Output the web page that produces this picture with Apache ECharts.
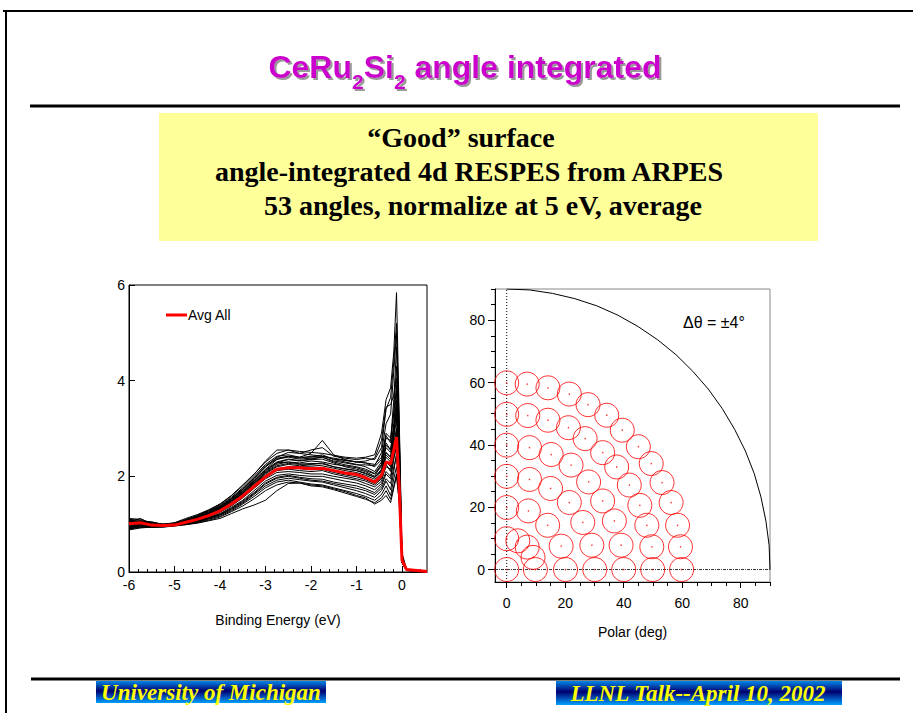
<!DOCTYPE html>
<html><head><meta charset="utf-8">
<script src="https://cdn.jsdelivr.net/npm/echarts@6/dist/echarts.min.js"></script>
<style>html,body{margin:0;padding:0;background:#fff;}#c{width:913px;height:713px;}</style>
</head><body><div id="c"></div>
<script>
// ---------- Left panel: angle-integrated spectra ----------
const energy = [-6,-5.75,-5.5,-5.25,-5,-4.75,-4.5,-4.25,-4,-3.75,-3.5,-3.25,-3,-2.75,-2.5,-2.25,-2,-1.75,-1.5,-1.25,-1,-0.8,-0.6,-0.45,-0.35,-0.25,-0.18,-0.12,-0.06,0,0.1,0.55];
const avgAll = [1.01,1.03,0.98,0.97,0.98,1.04,1.10,1.18,1.28,1.42,1.59,1.79,1.99,2.15,2.18,2.18,2.16,2.17,2.12,2.07,2.04,1.97,1.88,2.02,2.30,2.26,2.55,2.82,1.75,0.25,0.05,0.01];
const angle01 = [1.10,1.08,1.02,1.00,1.03,1.12,1.20,1.30,1.42,1.60,1.82,2.05,2.30,2.48,2.55,2.52,2.50,2.48,2.44,2.40,2.38,2.40,2.45,2.90,3.60,3.85,4.60,5.84,3.20,0.40,0.06,0.01];
const angle02 = [1.05,1.12,1.00,0.98,1.00,1.08,1.16,1.24,1.36,1.52,1.72,1.95,2.20,2.40,2.50,2.48,2.55,2.60,2.42,2.38,2.35,2.38,2.35,2.60,3.40,3.65,4.40,5.20,3.00,0.35,0.05,0.01];
const angle03 = [0.95,1.00,0.96,0.95,0.98,1.05,1.13,1.22,1.35,1.50,1.70,1.92,2.15,2.35,2.42,2.40,2.48,2.75,2.45,2.35,2.30,2.28,2.20,2.35,2.80,2.75,3.60,4.70,2.80,0.30,0.05,0.01];
const angle04 = [1.08,1.05,1.05,0.99,1.01,1.10,1.18,1.28,1.40,1.56,1.76,2.00,2.25,2.42,2.45,2.40,2.40,2.45,2.35,2.30,2.25,2.20,2.10,2.30,2.85,2.70,3.40,4.30,2.60,0.30,0.04,0.01];
const angle05 = [0.90,0.93,0.95,0.96,0.99,1.06,1.12,1.22,1.32,1.46,1.65,1.86,2.08,2.25,2.30,2.28,2.32,2.30,2.25,2.22,2.18,2.12,2.05,2.20,2.60,2.50,3.10,3.80,2.40,0.28,0.04,0.01];
const angle06 = [1.12,1.10,1.03,1.00,1.02,1.07,1.14,1.25,1.36,1.50,1.68,1.90,2.12,2.28,2.30,2.26,2.25,2.28,2.20,2.15,2.12,2.05,1.98,2.15,2.50,2.40,2.90,3.50,2.20,0.25,0.04,0.01];
const angle07 = [0.92,0.98,0.97,0.95,0.99,1.03,1.09,1.17,1.27,1.40,1.57,1.78,2.00,2.15,2.20,2.20,2.20,2.18,2.12,2.08,2.05,1.98,1.90,2.05,2.40,2.30,2.70,3.00,2.00,0.25,0.04,0.01];
const angle08 = [1.02,1.07,0.99,0.97,1.00,1.04,1.10,1.20,1.30,1.45,1.62,1.82,2.02,2.12,2.15,2.12,2.10,2.12,2.05,2.00,1.95,1.90,1.82,1.95,2.20,2.15,2.55,2.80,1.90,0.22,0.04,0.01];
const angle09 = [0.88,0.92,0.94,0.95,0.98,1.02,1.07,1.14,1.22,1.35,1.50,1.70,1.90,2.02,2.05,2.02,2.00,2.00,1.95,1.90,1.86,1.80,1.72,1.85,2.10,2.00,2.40,2.60,1.80,0.22,0.04,0.01];
const angle10 = [1.00,1.02,0.98,0.96,0.99,1.02,1.06,1.12,1.20,1.32,1.46,1.64,1.84,1.96,2.00,1.96,1.92,1.90,1.85,1.80,1.75,1.70,1.62,1.75,1.95,1.85,2.20,2.40,1.70,0.20,0.04,0.01];
const angle11 = [0.90,0.95,0.93,0.94,0.97,1.00,1.04,1.10,1.17,1.28,1.42,1.58,1.76,1.88,1.92,1.88,1.84,1.82,1.76,1.70,1.64,1.58,1.50,1.62,1.80,1.60,1.95,2.20,1.60,0.20,0.04,0.01];
const angle12 = [0.98,1.00,0.96,0.95,0.97,0.99,1.02,1.07,1.12,1.22,1.32,1.40,1.50,1.70,1.85,1.86,1.80,1.78,1.72,1.65,1.58,1.52,1.45,1.55,1.70,1.52,1.80,2.05,1.50,0.20,0.03,0.01];
const angle13 = [1.06,1.04,1.01,0.98,1.00,1.06,1.12,1.21,1.33,1.48,1.66,1.88,2.10,2.28,2.35,2.32,2.35,2.36,2.28,2.20,2.15,2.10,2.00,2.25,2.70,2.55,3.00,3.30,2.10,0.25,0.04,0.01];
const angle14 = [0.94,0.97,1.00,0.98,0.99,1.03,1.08,1.15,1.25,1.38,1.55,1.75,1.95,2.08,2.10,2.08,2.05,2.05,2.00,1.96,1.92,1.85,1.78,1.90,2.25,2.10,2.50,2.90,1.85,0.22,0.04,0.01];
const angle15 = [1.03,1.06,1.01,0.99,1.02,1.09,1.17,1.27,1.38,1.54,1.74,1.97,2.22,2.38,2.42,2.38,2.42,2.42,2.36,2.33,2.30,2.32,2.38,2.75,3.45,3.50,3.70,4.05,2.50,0.30,0.05,0.01];
const angle16 = [0.97,1.01,0.99,0.97,0.99,1.05,1.11,1.19,1.30,1.44,1.61,1.83,2.05,2.20,2.25,2.22,2.24,2.22,2.17,2.12,2.08,2.02,1.94,2.10,2.45,2.35,2.80,3.20,2.05,0.24,0.04,0.01];
const angle17 = [0.93,0.96,0.95,0.96,0.98,1.01,1.06,1.13,1.21,1.33,1.48,1.66,1.86,1.98,2.02,1.98,1.95,1.94,1.88,1.84,1.80,1.74,1.66,1.80,2.05,1.95,2.35,2.70,1.75,0.21,0.04,0.01];
const angle18 = [1.07,1.03,1.00,0.99,1.00,1.06,1.13,1.23,1.34,1.49,1.68,1.90,2.14,2.30,2.36,2.33,2.36,2.40,2.30,2.24,2.20,2.15,2.06,2.25,2.65,2.55,3.05,3.60,2.25,0.26,0.04,0.01];
const angle19 = [0.96,0.93,0.96,0.95,0.97,1.00,1.05,1.11,1.19,1.30,1.44,1.62,1.80,1.92,1.96,1.93,1.90,1.88,1.82,1.76,1.70,1.64,1.56,1.70,1.90,1.72,2.10,2.50,1.65,0.20,0.04,0.01];
const angle20 = [1.01,1.04,1.02,0.98,1.01,1.08,1.15,1.25,1.37,1.53,1.73,1.96,2.20,2.36,2.40,2.36,2.38,2.40,2.32,2.28,2.24,2.24,2.22,2.50,3.10,3.30,4.20,5.00,2.90,0.33,0.05,0.01];
const angle21 = [1.09,1.06,1.04,1.00,1.02,1.09,1.18,1.29,1.42,1.59,1.80,2.04,2.32,2.55,2.55,2.48,2.45,2.42,2.38,2.34,2.30,2.28,2.25,2.40,2.90,2.80,3.30,3.90,2.40,0.30,0.05,0.01];
const angle22 = [0.91,0.97,0.98,0.96,0.99,1.04,1.10,1.18,1.29,1.43,1.60,1.81,2.02,2.16,2.18,2.16,2.14,2.15,2.08,2.03,1.99,1.93,1.85,1.98,2.30,2.20,2.60,2.95,1.95,0.23,0.04,0.01];
const angle23 = [1.04,0.99,1.00,0.97,1.00,1.05,1.12,1.20,1.31,1.46,1.64,1.85,2.07,2.22,2.27,2.25,2.27,2.26,2.20,2.16,2.12,2.07,1.98,2.12,2.50,2.40,2.85,3.40,2.15,0.25,0.04,0.01];
const angle24 = [0.95,0.98,0.94,0.94,0.96,0.99,1.03,1.08,1.15,1.26,1.38,1.53,1.70,1.82,1.88,1.86,1.82,1.80,1.74,1.68,1.60,1.55,1.42,1.50,1.60,1.45,1.75,2.00,1.45,0.19,0.03,0.01];
const energyTicks = [-6,-5,-4,-3,-2,-1,0];
const energyMinorTicks = [-5.8,-5.6,-5.4,-5.2,-4.8,-4.6,-4.4,-4.2,-3.8,-3.6,-3.4,-3.2,-2.8,-2.6,-2.4,-2.2,-1.8,-1.6,-1.4,-1.2,-0.8,-0.6,-0.4,-0.2,0.2,0.4];
const intensityTicks = [0,2,4,6];

// ---------- Right panel: measured angles ----------
const spotPolar = [0, 0,3.8,7.0,9.0,9.8, 0,7.4,14.0,18.6,20.1, 0,7.8,15.0,21.4,26.0,29.1,30.1,
  0,7.8,15.2,22.0,28.0,32.8,36.8,39.1,40.0,
  0,7.2,14.1,21.1,26.8,32.8,37.6,41.9,45.5,47.9,49.6,49.9,
  0,7.0,14.1,21.4,27.8,34.2,39.5,45.0,49.4,53.1,56.2,58.4,59.4,59.8];
const spotOther = [0, 9.9,9.2,7.2,3.9,0, 19.9,18.8,14.2,7.5,0, 29.9,28.9,26.0,21.5,15.1,7.8,0,
  39.9,39.1,36.9,33.5,28.1,22.0,15.6,7.8,0,
  49.8,49.4,47.9,45.5,42.0,37.5,32.9,27.1,20.6,14.2,7.3,0,
  59.9,59.5,58.3,56.3,52.9,49.5,44.7,39.4,34.0,27.9,21.5,14.2,7.3,0];
const horizonX = [0,7.8,15.6,23.3,30.8,38.0,45.0,51.6,57.9,63.6,68.9,73.7,77.9,81.6,84.6,86.9,88.6,89.7,90];
const horizonY = [90,89.7,88.6,86.9,84.6,81.6,77.9,73.7,68.9,63.6,57.9,51.6,45.0,38.0,30.8,23.3,15.6,7.8,0];
const polarTicks = [0,20,40,60,80];
const polarMinorTicks = [5,10,15,25,30,35,45,50,55,65,70,75,85,90];

const angleCurves = [angle01,angle02,angle03,angle04,angle05,angle06,angle07,angle08,angle09,angle10,angle11,angle12,
  angle13,angle14,angle15,angle16,angle17,angle18,angle19,angle20,angle21,angle22,angle23,angle24];

const SANS = '"Liberation Sans", Arial, sans-serif';
const SERIF = '"Liberation Serif", "Times New Roman", serif';
const pair = (xs, ys) => xs.map((x, i) => [x, ys[i]]);

const chart = echarts.init(document.getElementById('c'), null, {renderer: 'svg', width: 913, height: 713});

const series = [];
angleCurves.forEach(c => series.push({
  type: 'line', xAxisIndex: 0, yAxisIndex: 0, data: pair(energy, c), symbol: 'none',
  lineStyle: {color: '#000', width: 1}, silent: true, z: 2
}));
series.push({
  name: 'Avg All', type: 'line', xAxisIndex: 0, yAxisIndex: 0, data: pair(energy, avgAll), symbol: 'none',
  lineStyle: {color: '#ff0000', width: 3}, itemStyle: {color: '#ff0000'}, z: 3
});
series.push({type: 'line', xAxisIndex: 2, yAxisIndex: 1, data: pair(horizonX, horizonY), symbol: 'none',
  lineStyle: {color: '#000', width: 1}, silent: true});
series.push({type: 'line', xAxisIndex: 2, yAxisIndex: 1, data: [[0,-4],[0,90]], symbol: 'none',
  lineStyle: {color: '#000', width: 1, type: [1,2]}, silent: true});
series.push({type: 'line', xAxisIndex: 2, yAxisIndex: 1, data: [[-4,0],[90,0]], symbol: 'none',
  lineStyle: {color: '#333', width: 1, type: [3,1,1,1]}, silent: true});
series.push({type: 'scatter', xAxisIndex: 2, yAxisIndex: 1, data: pair(spotPolar, spotOther), symbol: 'circle', symbolSize: 24,
  itemStyle: {color: 'rgba(0,0,0,0)', borderColor: '#ff0000', borderWidth: 1}, silent: true, z: 4});
series.push({type: 'scatter', xAxisIndex: 2, yAxisIndex: 1, data: pair(spotPolar, spotOther), symbol: 'circle', symbolSize: 1.5,
  itemStyle: {color: '#ff0000'}, silent: true, z: 4});

const labelStyle = {color: '#000', fontSize: 14, fontFamily: SANS};
const footGrad = () => new echarts.graphic.LinearGradient(0,0,0,1,[
  {offset: 0, color: '#0088e8'}, {offset: 0.45, color: '#000070'}, {offset: 1, color: '#00a0ff'}]);
const titleShadow = {textShadowColor: '#999999', textShadowOffsetX: 2, textShadowOffsetY: 2, textShadowBlur: 1};

const option = {
  animation: false,
  backgroundColor: '#fff',
  grid: [
    {left: 129, top: 285, width: 298, height: 287, show: true, borderColor: '#000', borderWidth: 1, backgroundColor: 'transparent'},
    {left: 495, top: 289, width: 275, height: 293, show: true, borderColor: '#888', borderWidth: 1, backgroundColor: 'transparent'}
  ],
  legend: {data: ['Avg All'], left: 161, top: 303, icon: 'rect', itemWidth: 21, itemHeight: 3, itemGap: 0,
    textStyle: {color: '#000', fontSize: 14, fontFamily: SANS, padding: [0,0,0,-4]}},
  xAxis: [
    {gridIndex: 0, type: 'value', position: 'bottom', min: -6, max: 0.55,
      axisLine: {onZero: false, lineStyle: {color: '#000'}},
      axisTick: {inside: true, length: 6, customValues: energyTicks, lineStyle: {color: '#000'}},
      axisLabel: Object.assign({customValues: energyTicks, margin: 6}, labelStyle),
      splitLine: {show: false},
      name: 'Binding Energy (eV)', nameLocation: 'middle', nameGap: 41, nameTextStyle: labelStyle},
    {gridIndex: 0, type: 'value', position: 'bottom', min: -6, max: 0.55,
      axisLine: {show: false, onZero: false}, axisLabel: {show: false}, splitLine: {show: false},
      axisTick: {inside: true, length: 3, customValues: energyMinorTicks, lineStyle: {color: '#000'}}},
    {gridIndex: 1, type: 'value', position: 'bottom', min: -4, max: 90,
      axisLine: {onZero: false, lineStyle: {color: '#000'}},
      axisTick: {inside: false, length: 6, customValues: polarTicks, lineStyle: {color: '#000'}},
      axisLabel: Object.assign({customValues: polarTicks, margin: 14}, labelStyle),
      splitLine: {show: false},
      name: 'Polar (deg)', nameLocation: 'middle', nameGap: 43, nameTextStyle: labelStyle},
    {gridIndex: 1, type: 'value', position: 'bottom', min: -4, max: 90,
      axisLine: {show: false, onZero: false}, axisLabel: {show: false}, splitLine: {show: false},
      axisTick: {inside: false, length: 4, customValues: polarMinorTicks, lineStyle: {color: '#000'}}}
  ],
  yAxis: [
    {gridIndex: 0, type: 'value', position: 'left', min: 0, max: 6,
      axisLine: {onZero: false, lineStyle: {color: '#000'}},
      axisTick: {inside: true, length: 6, customValues: intensityTicks, lineStyle: {color: '#000'}},
      axisLabel: Object.assign({customValues: intensityTicks, margin: 4}, labelStyle),
      splitLine: {show: false}},
    {gridIndex: 1, type: 'value', position: 'left', min: -4, max: 90,
      axisLine: {onZero: false, lineStyle: {color: '#000'}},
      axisTick: {inside: false, length: 7, customValues: polarTicks, lineStyle: {color: '#000'}},
      axisLabel: Object.assign({customValues: polarTicks, margin: 10}, labelStyle),
      splitLine: {show: false}},
    {gridIndex: 1, type: 'value', position: 'left', min: -4, max: 90,
      axisLine: {show: false, onZero: false}, axisLabel: {show: false}, splitLine: {show: false},
      axisTick: {inside: false, length: 4, customValues: polarMinorTicks, lineStyle: {color: '#000'}}}
  ],
  series: series,
  graphic: [
    {type: 'line', shape: {x1: 3, y1: 11, x2: 913, y2: 11}, style: {stroke: '#000', lineWidth: 2}},
    {type: 'line', shape: {x1: 6, y1: 10, x2: 6, y2: 713}, style: {stroke: '#000', lineWidth: 2}},
    {type: 'text', x: 465, y: 67, style: Object.assign({
      text: '{a|CeRu}{s|2}{a|Si}{s|2}{a| angle integrated}',
      align: 'center', verticalAlign: 'middle',
      rich: {
        a: Object.assign({fontSize: 32, fontWeight: 'bold', fontFamily: SANS, fill: '#cc00cc', color: '#cc00cc', lineHeight: 40, verticalAlign: 'middle'}, titleShadow),
        s: Object.assign({fontSize: 21, fontWeight: 'bold', fontFamily: SANS, fill: '#cc00cc', color: '#cc00cc', lineHeight: 40, verticalAlign: 'bottom', padding: [0,0,-5,0]}, titleShadow)
      }}, titleShadow)},
    {type: 'line', shape: {x1: 30, y1: 106, x2: 900, y2: 106}, style: {stroke: '#000', lineWidth: 3}},
    {type: 'rect', shape: {x: 159, y: 113, width: 659, height: 128}, style: {fill: '#ffff99'}},
    {type: 'text', x: 461, y: 137, style: {text: '\u201cGood\u201d surface', align: 'center', verticalAlign: 'middle',
      font: 'bold 28px ' + SERIF, fill: '#000'}},
    {type: 'text', x: 469, y: 171, style: {text: 'angle-integrated 4d RESPES from ARPES', align: 'center', verticalAlign: 'middle',
      font: 'bold 28px ' + SERIF, fill: '#000'}},
    {type: 'text', x: 483, y: 205, style: {text: '53 angles, normalize at 5 eV, average', align: 'center', verticalAlign: 'middle',
      font: 'bold 28px ' + SERIF, fill: '#000'}},
    {type: 'text', x: 683, y: 322, style: {text: '\u0394\u03b8 = \u00b14\u00b0', align: 'left', verticalAlign: 'middle',
      font: '16px ' + SANS, fill: '#000'}},
    {type: 'line', shape: {x1: 31, y1: 679, x2: 900, y2: 679}, style: {stroke: '#000', lineWidth: 3}},
    {type: 'rect', shape: {x: 96, y: 681, width: 230, height: 22}, style: {fill: footGrad()}},
    {type: 'text', x: 211, y: 692, style: {text: 'University of Michigan', align: 'center', verticalAlign: 'middle',
      font: 'italic bold 23px ' + SERIF, fill: '#ffff00'}},
    {type: 'rect', shape: {x: 556, y: 681, width: 286, height: 24}, style: {fill: footGrad()}},
    {type: 'text', x: 698, y: 693, style: {text: 'LLNL Talk--April 10, 2002', align: 'center', verticalAlign: 'middle',
      font: 'italic bold 23px ' + SERIF, fill: '#ffff00'}}
  ]
};
chart.setOption(option);
</script></body></html>
